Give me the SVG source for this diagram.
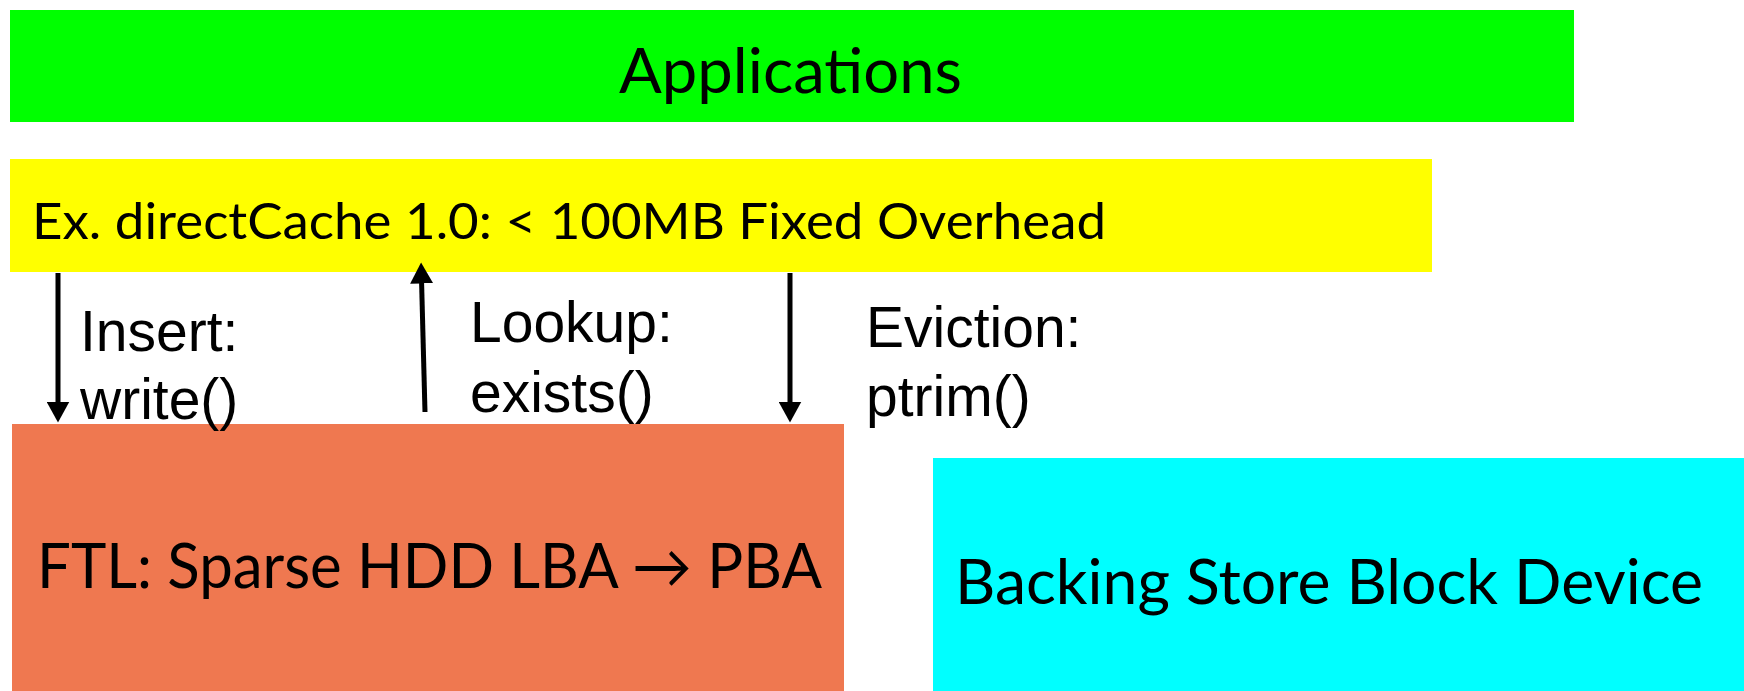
<svg xmlns="http://www.w3.org/2000/svg" width="1744" height="691" viewBox="0 0 1744 691">
<style>
.box{stroke:none}
.cal{font-family:Lato,"Noto Sans",sans-serif;fill:#000}
.ar{font-family:"Liberation Sans",Arial,sans-serif;font-size:57px;fill:#000}
.conn{stroke:#000;stroke-width:5;fill:none}
</style>
<defs>
<marker id="ah" markerUnits="userSpaceOnUse" markerWidth="21" markerHeight="23" viewBox="0 0 21 23" refX="0.5" refY="11.5" orient="auto">
<path d="M0,0 L21,11.5 L0,23 Z" fill="#000"/>
</marker>
</defs>
<rect width="1744" height="691" fill="#fff"/>
<g id="applications">
<rect class="box" x="10" y="10" width="1564" height="112" fill="#00FF00"/>
<text class="cal" x="619" y="93" font-size="61" textLength="343" lengthAdjust="spacingAndGlyphs">Applications</text>
</g>
<g id="directcache">
<rect class="box" x="10" y="159" width="1422" height="113" fill="#FFFF00"/>
<text class="cal" x="32" y="239" font-size="50" textLength="1074" lengthAdjust="spacingAndGlyphs">Ex. directCache 1.0: &lt; 100MB Fixed Overhead</text>
</g>
<g id="ftl">
<rect class="box" x="12" y="424" width="832" height="267" fill="#EF7850"/>
<text class="cal" x="37" y="588" font-size="61" textLength="785" lengthAdjust="spacingAndGlyphs">FTL: Sparse HDD LBA → PBA</text>
</g>
<g id="backing">
<rect class="box" x="933" y="458" width="811" height="233" fill="#00FFFF"/>
<text class="cal" x="955" y="604" font-size="61" textLength="748" lengthAdjust="spacingAndGlyphs">Backing Store Block Device</text>
</g>
<g id="connectors">
<line class="conn" x1="58" y1="273" x2="58" y2="402" marker-end="url(#ah)"/>
<line class="conn" x1="425" y1="412" x2="421.6" y2="283" marker-end="url(#ah)"/>
<line class="conn" x1="790" y1="273" x2="790" y2="402" marker-end="url(#ah)"/>
</g>
<g id="labels">
<text class="ar" x="80" y="351">Insert:</text>
<text class="ar" x="80" y="419">write()</text>
<text class="ar" x="470" y="342">Lookup:</text>
<text class="ar" x="470" y="412">exists()</text>
<text class="ar" x="866" y="347">Eviction:</text>
<text class="ar" x="866" y="416">ptrim()</text>
</g>
</svg>
